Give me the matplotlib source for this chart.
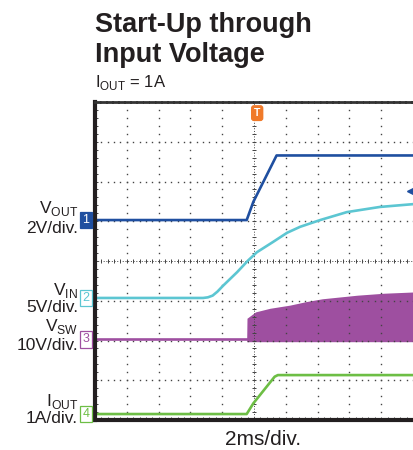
import numpy as np
import matplotlib
matplotlib.use("Agg")
import matplotlib.pyplot as plt

plt.rcParams['font.family'] = ['Liberation Sans', 'DejaVu Sans']
plt.rcParams['mathtext.fontset'] = 'custom'
plt.rcParams['mathtext.rm'] = 'Liberation Sans'

W, H = 413, 450

# scope channels: time in ms, values in V or A
t_vout = [0, 9.54, 9.96, 11.42, 20]
vout = [0, 0, 0.92, 3.25, 3.25]

t_vin = [0, 6.8, 7.1, 7.4, 7.7, 8.06, 8.5, 8.94, 9.62, 10.18, 11.2, 12.08, 12.9,
         14.16, 15.84, 17.92, 20]
vin = [0, 0, 0.08, 0.3, 0.8, 1.55, 2.4, 3.25, 4.7, 5.75, 7.05, 8.2, 8.95,
       9.8, 10.8, 11.45, 11.8]

t_vsw = [0, 9.54]
vsw = [0, 0]
t_vsw_env = [9.54, 9.56, 10.1, 11.0, 12.26, 13.3, 14.3, 16.5, 18.2, 20]
vsw_env = [0, 5.3, 6.9, 7.8, 8.6, 9.5, 10.2, 11.1, 11.6, 11.9]
vsw_low = -0.6

t_iout = [0, 9.54, 9.96, 11.3, 11.5, 20]
iout = [0, 0, 0.27, 0.94, 0.98, 0.98]

# (offset in div, units per div)
ch_vout = (5.03, 2.0)
ch_vin = (3.07, 5.0)
ch_vsw = (2.03, 10.0)
ch_iout = (0.15, 1.0)

c_vout = '#1F4FA0'
c_vin = '#5CC6D2'
c_vsw = '#9E4FA0'
c_iout = '#6DBE45'
c_trig = '#F07A2A'
ink = '#231F20'


def to_div(vals, ch):
    return ch[0] + np.array(vals) / ch[1]


fig = plt.figure(figsize=(W / 100, H / 100), dpi=100)
ax = fig.add_axes([95 / W, 30 / H, 318 / W, 318 / H])
ax.set_xlim(0, 20)
ax.set_ylim(0, 8)

# graticule dots
grid_c = '#444444'
for gx in np.arange(2, 20, 2):
    if gx == 10:
        continue
    ys = np.arange(0, 8.01, 0.2)
    ax.plot(np.full_like(ys, gx), ys, ls='none', marker='s', ms=1.0, mew=0,
            color=grid_c)
for gy in range(1, 8):
    if gy == 4:
        continue
    xs = np.arange(0, 20.01, 0.4)
    ax.plot(xs, np.full_like(xs, gy), ls='none', marker='s', ms=1.0, mew=0,
            color=grid_c)

# center lines with small ticks
ax.plot([0, 20], [4, 4], color=grid_c, lw=0.7, ls=(0, (1, 1.8)))
ax.plot([10, 10], [0, 8], color=grid_c, lw=0.7, ls=(0, (1, 1.8)))
xs = np.arange(0, 20.01, 0.4)
ax.plot(xs, np.full_like(xs, 4), ls='none', marker='|', ms=3.5, mew=0.7, color=grid_c)
ys = np.arange(0, 8.01, 0.2)
ax.plot(np.full_like(ys, 10), ys, ls='none', marker='_', ms=3.5, mew=0.7, color=grid_c)

# traces
ax.plot(t_vin, to_div(vin, ch_vin), color=c_vin, lw=1.9)
ax.plot(t_vsw, to_div(vsw, ch_vsw), color=c_vsw, lw=1.9)
ax.fill_between(t_vsw_env, to_div([vsw_low] * len(t_vsw_env), ch_vsw),
                to_div(vsw_env, ch_vsw), color=c_vsw, lw=0)
ax.plot(t_vout, to_div(vout, ch_vout), color=c_vout, lw=1.9)
ax.plot(t_iout, to_div(iout, ch_iout), color=c_iout, lw=1.9)

# frame
ax.spines['right'].set_visible(False)
ax.spines['left'].set_linewidth(3.0)
ax.spines['bottom'].set_linewidth(3.0)
ax.spines['left'].set_color(ink)
ax.spines['bottom'].set_color(ink)
ax.spines['top'].set_linewidth(2.0)
ax.spines['top'].set_linestyle((0, (1.5, 0.7)))
ax.spines['top'].set_color('#333333')
ax.set_xticks(np.arange(0, 20.01, 0.4))
ax.set_yticks(np.arange(0, 8.01, 0.2))
ax.tick_params(direction='in', length=2.5, width=0.7, color=grid_c,
               labelbottom=False, labelleft=False, top=False, right=False)

# channel markers
markers = [('1', ch_vout, c_vout, True), ('2', ch_vin, c_vin, False),
           ('3', ch_vsw, c_vsw, False), ('4', ch_iout, c_iout, False)]
for num, ch, col, filled in markers:
    ax.annotate(num, xy=(0, ch[0]), xytext=(-6.5, 0), textcoords='offset points',
                ha='center', va='center', fontsize=9,
                color='white' if filled else col, annotation_clip=False,
                bbox=dict(boxstyle='square,pad=0.18',
                          fc=col if filled else 'white', ec=col, lw=0.9))

# trigger marker and level arrow
ax.text(10.2, 7.72, 'T', ha='center', va='center', fontsize=7.5, fontweight='bold',
        color='white', bbox=dict(boxstyle='round,pad=0.22', fc=c_trig, ec=c_trig))
ax.plot([19.85], [to_div(1.48, ch_vout)], marker='<', ms=6, color=c_vout, clip_on=False)


def ft(x, y, s, **kw):
    fig.text(x / W, 1 - y / H, s, va='baseline', **kw)


ft(95, 32, 'Start-Up through', fontsize=19.5, fontweight='bold', color=ink)
ft(95, 62, 'Input Voltage', fontsize=19.5, fontweight='bold', color=ink)
ft(95, 87, r'I$_{\rm OUT}$ = 1A', fontsize=12, color=ink)

lab = dict(fontsize=12.5, ha='right', color=ink)
ft(78, 213, r'V$_{\rm OUT}$', **lab)
ft(78, 233, '2V/div.', **lab)
ft(78, 295, r'V$_{\rm IN}$', **lab)
ft(78, 312, '5V/div.', **lab)
ft(78, 331, r'V$_{\rm SW}$', **lab)
ft(78, 350, '10V/div.', **lab)
ft(78, 406, r'I$_{\rm OUT}$', **lab)
ft(78, 423, '1A/div.', **lab)
ft(263, 445, '2ms/div.', fontsize=15, ha='center', color=ink)

fig.savefig('out.png', dpi=100)
